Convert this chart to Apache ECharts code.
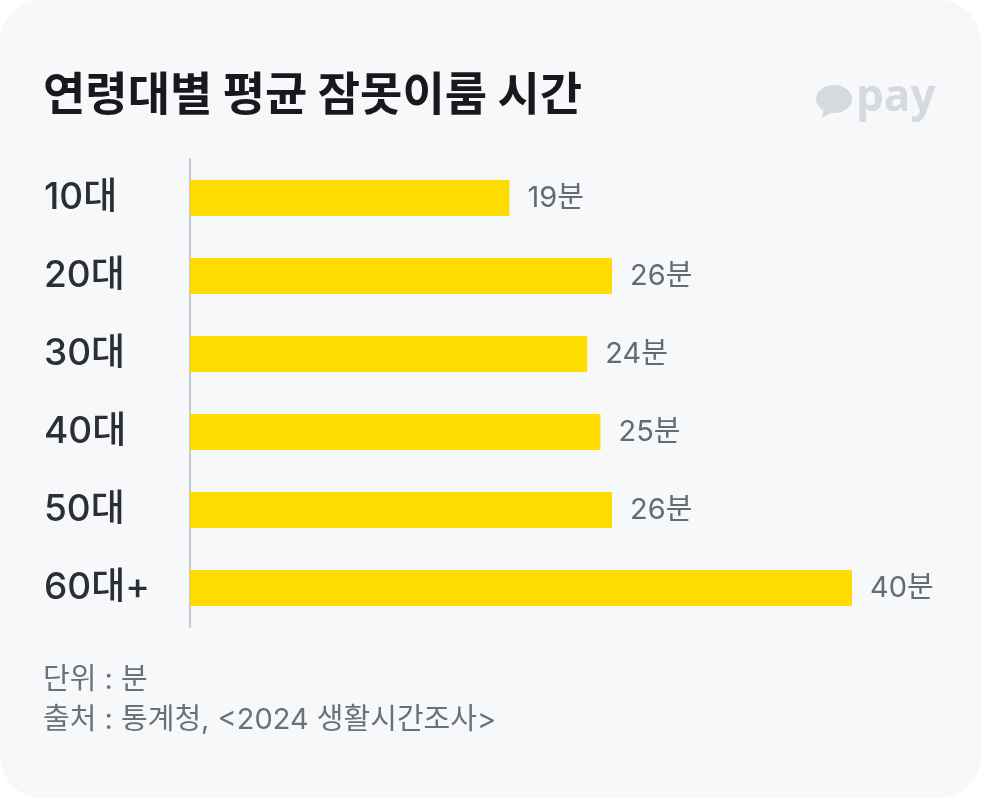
<!DOCTYPE html>
<html>
<head>
<meta charset="utf-8">
<script src="https://cdn.jsdelivr.net/npm/echarts@6/dist/echarts.min.js"></script>
<style>
html,body{margin:0;padding:0;background:#ffffff;}
#card{width:981px;height:798px;background:#f7f8fa;border-radius:42px;overflow:hidden;}
#chart{width:981px;height:798px;}
</style>
</head>
<body>
<div id="card"><div id="chart"></div></div>
<script>
const categories = ['10대', '20대', '30대', '40대', '50대', '60대+'];
const minutes = [19.3, 25.5, 24.0, 24.8, 25.5, 40];
const valueLabels = ['19분', '26분', '24분', '25분', '26분', '40분'];
const titleText = '연령대별 평균 잠못이룸 시간';
const unitText = '단위 : 분';
const sourceText = '출처 : 통계청, <2024 생활시간조사>';

const FONT = "Inter, 'Noto Sans CJK KR', sans-serif";
const chart = echarts.init(document.getElementById('chart'), null, {renderer: 'canvas'});
chart.setOption({
  backgroundColor: 'transparent',
  animation: false,
  grid: {left: 190, top: 159, width: 662, height: 468, containLabel: false},
  xAxis: {
    type: 'value', min: 0, max: 40,
    show: false
  },
  yAxis: {
    type: 'category', data: categories, inverse: true,
    axisLine: {show: true, lineStyle: {color: '#c5cad1', width: 2}},
    axisTick: {show: false},
    axisLabel: {
      align: 'left', margin: 146,
      fontFamily: FONT, fontSize: 37, fontWeight: 500, color: '#2b2f35'
    }
  },
  series: [{
    type: 'bar',
    data: minutes,
    barWidth: 36,
    itemStyle: {color: '#FFDC00'},
    label: {
      show: true, position: 'right', distance: 18,
      fontFamily: FONT, fontSize: 29, color: '#646b75',
      formatter: p => valueLabels[p.dataIndex]
    }
  }],
  graphic: [
    {type: 'text', left: 43, top: 70, style: {text: titleText, font: "bold 46px 'Noto Sans CJK KR', sans-serif", fill: '#17191d'}},
    {type: 'text', left: 43, top: 666, style: {text: unitText, font: "29px Inter, 'Noto Sans CJK KR', sans-serif", fill: '#6a717b'}},
    {type: 'text', left: 43, top: 706, style: {text: sourceText, font: "29px Inter, 'Noto Sans CJK KR', sans-serif", fill: '#6a717b'}},
    {type: 'ellipse', shape: {cx: 834, cy: 99, rx: 18, ry: 14}, style: {fill: '#d6d9dd'}},
    {type: 'polygon', shape: {points: [[824, 107], [834, 111], [822, 118]]}, style: {fill: '#d6d9dd'}},
    {type: 'text', left: 856, top: 76, style: {text: 'pay', font: "bold 44px 'Open Sans', sans-serif", fill: '#d6d9dd'}}
  ]
});
</script>
</body>
</html>
